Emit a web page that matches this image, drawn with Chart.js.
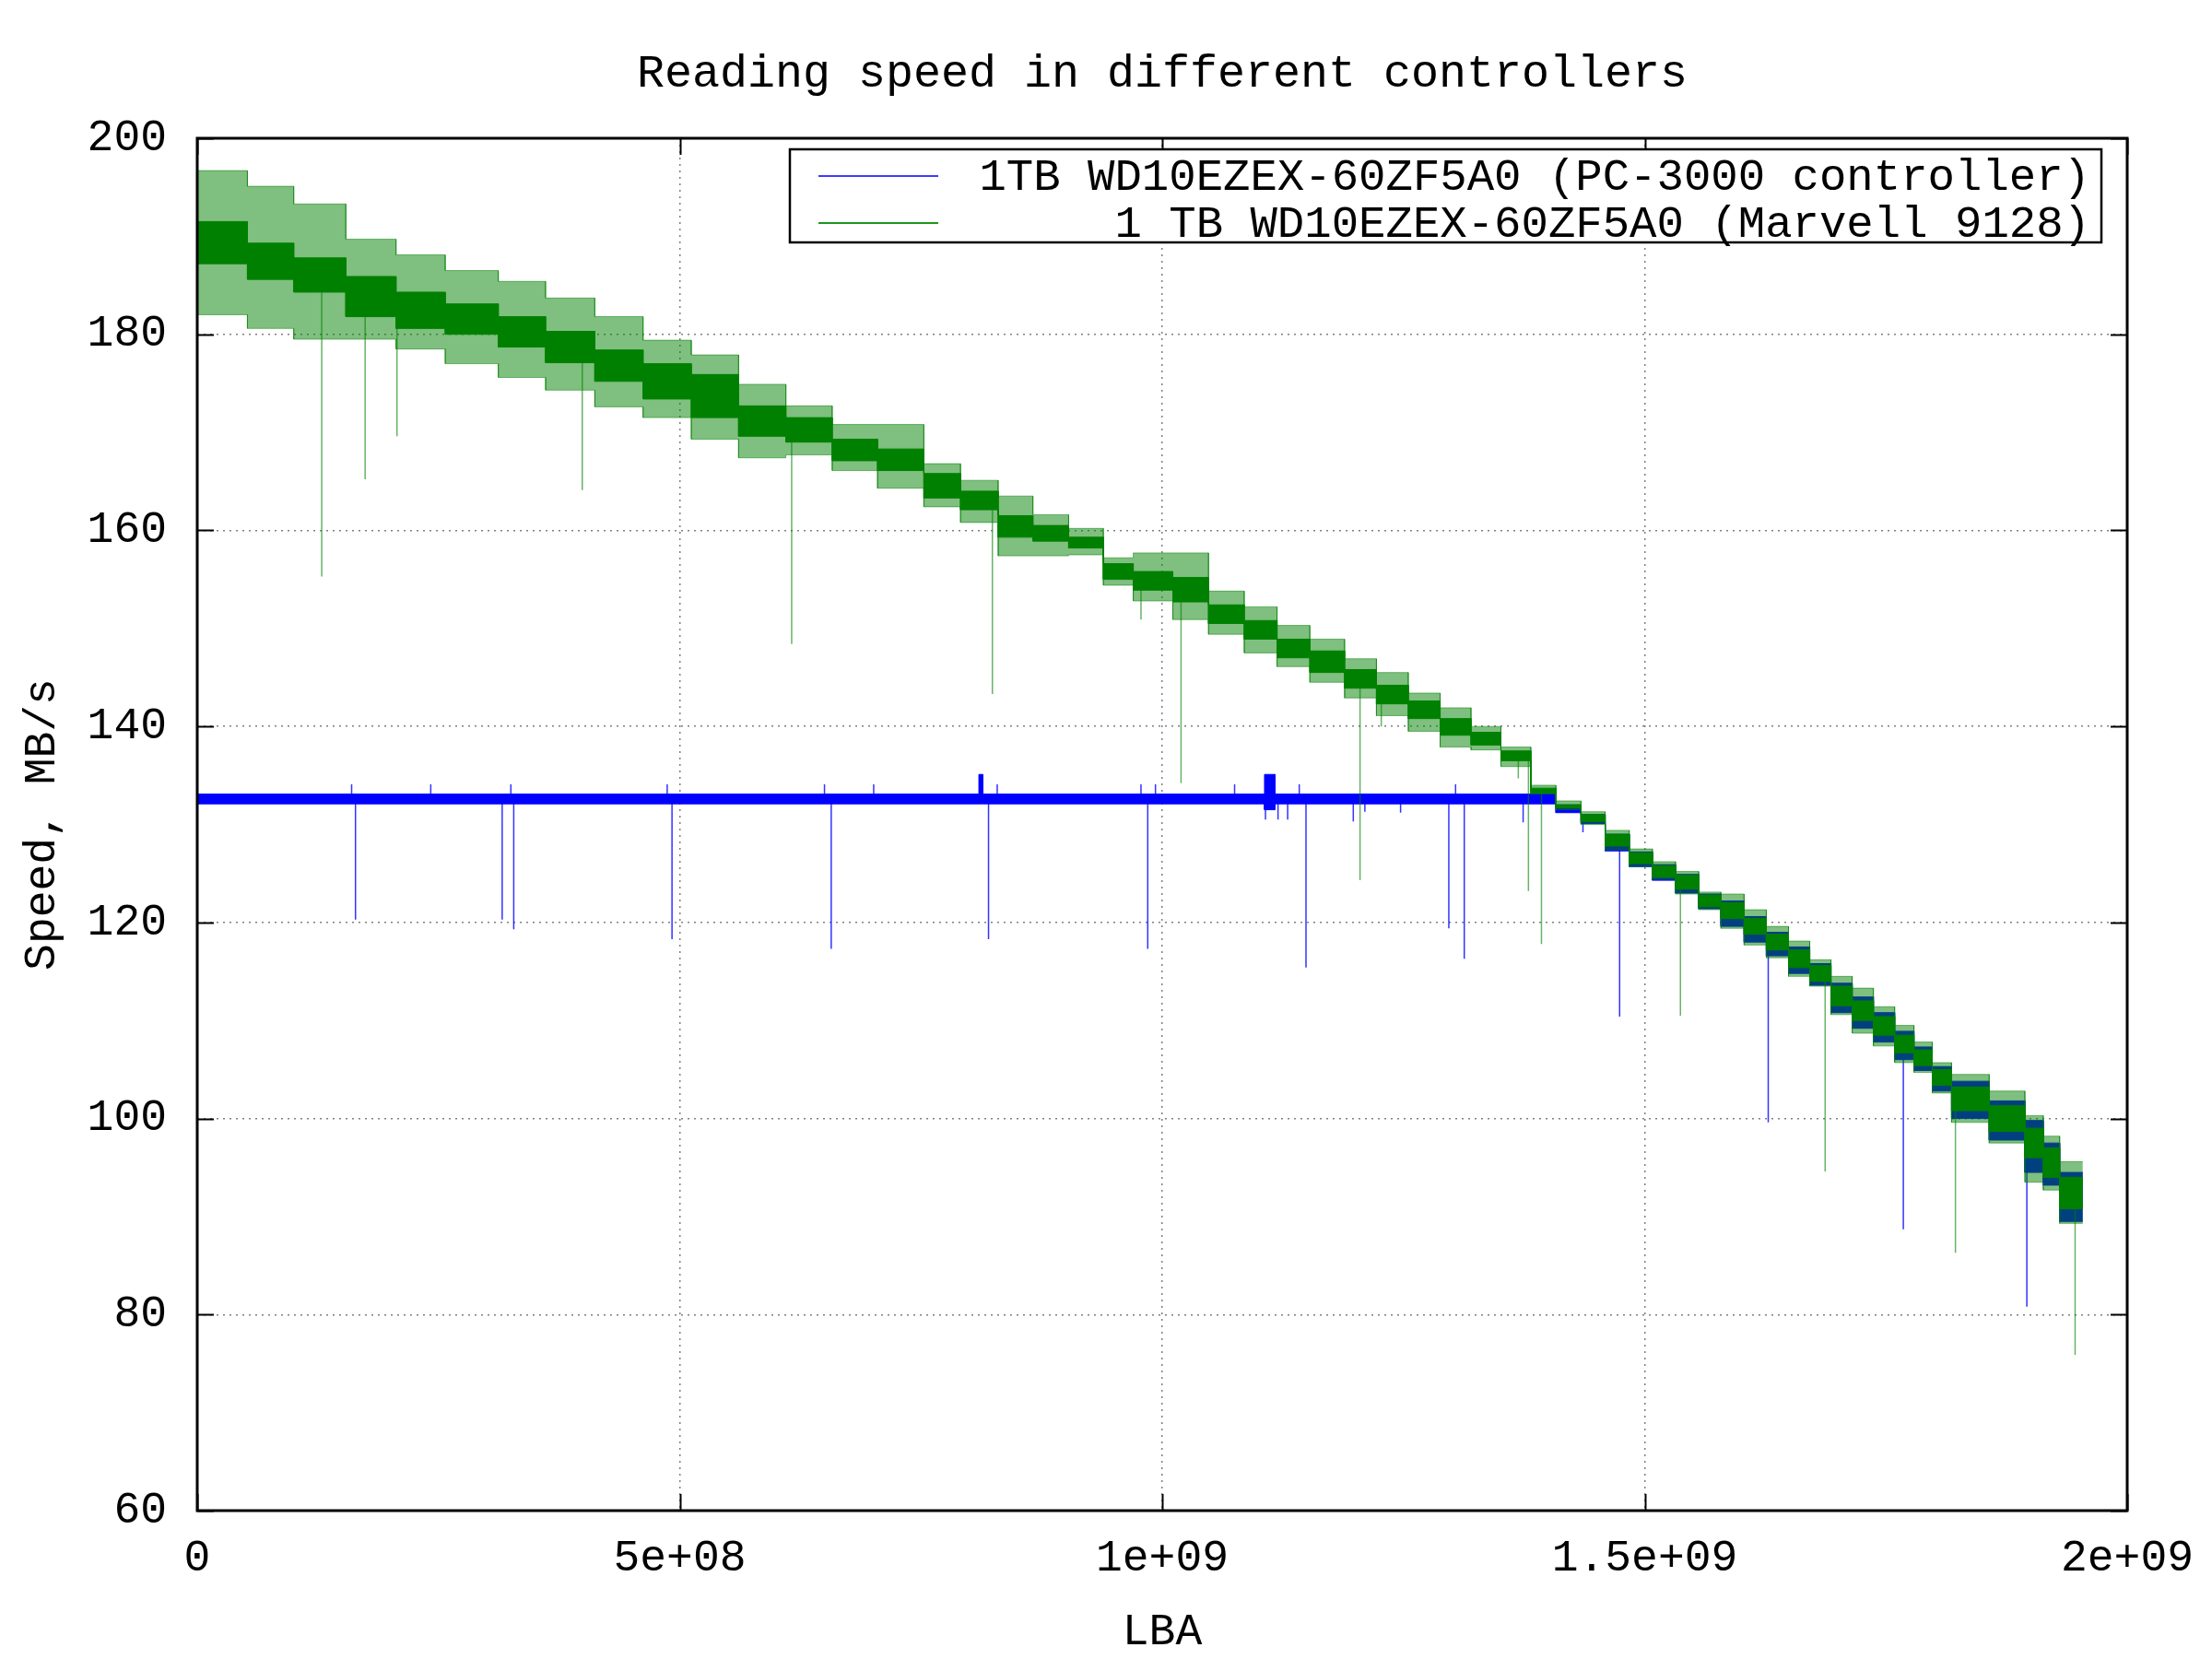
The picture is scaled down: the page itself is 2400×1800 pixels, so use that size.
<!DOCTYPE html>
<html>
<head>
<meta charset="utf-8">
<title>Reading speed in different controllers</title>
<script src="https://cdn.jsdelivr.net/npm/chart.js@4.4.1/dist/chart.umd.min.js"></script>
<style>
  html, body { margin: 0; padding: 0; background: #fff; }
</style>
</head>
<body>
<canvas id="chart" width="2400" height="1800"></canvas>
<script>

  /*
    ==================================================
    ====================== TEXTS ======================
    ==================================================
  */

  let chartTitle = 'Reading speed in different controllers';
  let xTitle = 'LBA';
  let yTitle = 'Speed, MB/s';
  let seriesLabels = [
    '1TB WD10EZEX-60ZF5A0 (PC-3000 controller)',
    '1 TB WD10EZEX-60ZF5A0 (Marvell 9128)'
  ];
  let xTickLabels = ['0', '5e+08', '1e+09', '1.5e+09', '2e+09'];

  /*
    ==================================================
    =============== DATA MARVELL (GREEN) ===============
    ==================================================
  */

  // zone edges, LBA x 1e9
  let greenEdges = [0, 0.052, 0.100, 0.154, 0.206, 0.257, 0.312, 0.361, 0.412, 0.462,
    0.512, 0.561, 0.610, 0.658, 0.705, 0.753, 0.791, 0.830, 0.866, 0.903,
    0.939, 0.970, 1.011, 1.048, 1.085, 1.119, 1.153, 1.189, 1.222, 1.255,
    1.288, 1.320, 1.351, 1.382, 1.408, 1.434, 1.459, 1.484, 1.508, 1.532,
    1.556, 1.579, 1.603, 1.626, 1.649, 1.671, 1.693, 1.715, 1.737, 1.759,
    1.779, 1.798, 1.818, 1.857, 1.894, 1.913, 1.930, 1.954];

  // top / bottom of the noise in each zone, MB/s
  let greenHi = [196.7, 195.1, 193.3, 189.7, 188.1, 186.5, 185.4, 183.7, 181.8, 179.4,
    177.9, 174.9, 172.7, 170.8, 170.8, 166.8, 165.1, 163.5, 161.6, 160.2,
    157.2, 157.7, 157.7, 153.8, 152.2, 150.3, 148.9, 146.9, 145.5, 143.4,
    141.9, 140.0, 137.9, 134.0, 132.4, 131.3, 129.4, 127.5, 126.2, 125.2,
    123.1, 122.9, 121.3, 119.6, 118.1, 116.2, 114.5, 113.3, 111.4, 109.5,
    107.8, 105.7, 104.5, 102.8, 100.3, 98.2, 95.6];
  let greenLo = [182.0, 180.6, 179.5, 179.5, 178.5, 177.0, 175.6, 174.3, 172.6, 171.5,
    169.3, 167.4, 167.7, 166.1, 164.3, 162.4, 160.8, 157.4, 157.4, 157.5,
    154.4, 152.8, 150.9, 149.4, 147.5, 146.1, 144.5, 142.9, 141.1, 139.5,
    137.9, 137.6, 135.9, 133.1, 131.5, 130.0, 127.4, 125.7, 124.4, 122.9,
    121.3, 119.4, 117.7, 116.4, 114.5, 113.5, 110.6, 108.7, 107.4, 105.7,
    104.7, 102.6, 99.6, 97.5, 93.5, 92.7, 89.3];

  // dense dark core of each zone, MB/s
  let greenCoreHi = [191.5, 189.3, 187.8, 185.9, 184.3, 183.1, 181.8, 180.3, 178.4, 177.0,
    175.9, 172.7, 171.5, 169.3, 168.3, 165.8, 164.0, 161.5, 160.5, 159.3,
    156.6, 155.8, 155.2, 152.4, 150.8, 148.9, 147.7, 145.8, 144.2, 142.6,
    140.8, 139.4, 137.5, 133.7, 132.0, 131.0, 129.0, 127.1, 125.8, 124.8,
    122.8, 122.0, 120.4, 118.8, 117.2, 115.6, 113.5, 112.0, 110.4, 108.5,
    107.0, 105.0, 103.2, 101.3, 99.0, 97.0, 94.0];
  let greenCoreLo = [187.2, 185.6, 184.3, 181.8, 180.6, 180.0, 178.7, 177.1, 175.2, 173.4,
    171.5, 169.6, 169.0, 167.1, 166.1, 163.3, 162.1, 159.3, 158.9, 158.2,
    155.0, 153.9, 152.7, 150.5, 148.9, 147.0, 145.5, 143.9, 142.3, 140.8,
    139.1, 138.1, 136.5, 133.2, 131.7, 130.3, 127.8, 126.0, 124.6, 123.4,
    121.6, 120.4, 118.8, 117.2, 115.4, 114.0, 111.5, 110.0, 108.5, 106.7,
    105.4, 103.4, 100.8, 98.7, 96.0, 94.0, 90.8];

  // single slow reads
  let greenDipX = [0.129, 0.174, 0.207, 0.399, 0.616, 0.824, 0.978, 1.0195, 1.205,
    1.227, 1.369, 1.3795, 1.393, 1.537, 1.687, 1.822, 1.946];
  let greenDipY = [155.3, 165.2, 169.6, 164.1, 148.4, 143.3, 150.9, 134.2, 124.3,
    140.0, 134.7, 123.2, 117.8, 110.5, 94.6, 86.3, 75.9];

  /*
    ==================================================
    =============== DATA PC-3000 (BLUE) ===============
    ==================================================
  */

  let blueEdges = [0, 0.810, 0.814, 1.106, 1.117, 1.408, 1.434, 1.459, 1.484, 1.508,
    1.532, 1.556, 1.579, 1.603, 1.626, 1.649, 1.671, 1.693, 1.715, 1.737,
    1.759, 1.779, 1.798, 1.818, 1.857, 1.894, 1.913, 1.930, 1.954];
  let blueHi = [133.1, 135.1, 133.1, 135.1, 133.1, 132.0, 131.0, 129.0, 127.2, 125.9,
    124.9, 122.9, 122.2, 120.6, 119.0, 117.5, 115.8, 113.8, 112.4, 110.8,
    108.9, 107.3, 105.3, 103.8, 101.8, 99.8, 97.5, 94.5];
  let blueLo = [132.1, 132.1, 132.1, 131.5, 132.1, 131.2, 130.1, 127.3, 125.7, 124.3,
    123.0, 121.4, 119.6, 118.0, 116.6, 114.8, 113.6, 110.8, 109.2, 107.8,
    106.0, 104.9, 102.8, 100.0, 97.8, 94.5, 93.2, 89.5];

  let blueSpikeX = [0.160, 0.164, 0.242, 0.316, 0.325, 0.328, 0.487, 0.492, 0.650, 0.657,
    0.701, 0.820, 0.829, 0.978, 0.985, 0.993, 1.075, 1.107, 1.120, 1.130,
    1.142, 1.149, 1.198, 1.210, 1.247, 1.297, 1.304, 1.313, 1.374, 1.436,
    1.474, 1.628, 1.768, 1.896];
  let blueSpikeY = [134.1, 120.3, 134.1, 120.3, 134.1, 119.3, 134.1, 118.3, 134.1, 117.3,
    134.1, 118.3, 134.1, 134.1, 117.3, 134.1, 134.1, 130.5, 130.5, 130.5,
    134.1, 115.4, 130.3, 131.3, 131.2, 119.4, 134.1, 116.3, 130.2, 129.2,
    110.4, 99.6, 88.7, 80.8];

  /*
    ==================================================
    ===================== HELPERS =====================
    ==================================================
  */

  let steps = (edges, vals) => vals.flatMap((v, i) => [
    { x: edges[i] * 1e9, y: v },
    { x: edges[i + 1] * 1e9, y: v }
  ]);

  let zoneMid = (edges, hi, lo, x) => {
    let i = edges.findIndex((e, k) => x >= e && x < edges[k + 1]);
    return (hi[i] + lo[i]) / 2;
  };

  let spikes = (xs, ys, edges, hi, lo) => xs.flatMap((x, i) => [
    { x: x * 1e9, y: zoneMid(edges, hi, lo, x) },
    { x: x * 1e9, y: ys[i] },
    { x: x * 1e9, y: null }
  ]);

  let line = (data, color, fill, width = 1) => ({
    data,
    borderColor: color,
    backgroundColor: color,
    borderWidth: width,
    pointRadius: 0,
    fill,
    spanGaps: false
  });

  /*
    ==================================================
    ===================== PLUGINS =====================
    ==================================================
  */

  let fontFamily = "'Liberation Mono', 'DejaVu Sans Mono', monospace";
  let green = 'rgb(0, 128, 0)';
  let greenSoft = 'rgba(0, 128, 0, 0.5)';
  let blue = 'rgb(0, 0, 255)';

  // gnuplot style frame with inward ticks on all sides
  let axesFrame = {
    id: 'axesFrame',
    afterDatasetsDraw(chart) {
      let { ctx, chartArea: a, scales: { x, y } } = chart;
      let tl = 18;
      ctx.save();
      ctx.strokeStyle = '#000';
      ctx.lineWidth = 2;
      ctx.beginPath();
      x.ticks.forEach(t => {
        let px = Math.round(x.getPixelForValue(t.value)) + 0.5;
        ctx.moveTo(px, a.bottom); ctx.lineTo(px, a.bottom - tl);
        ctx.moveTo(px, a.top); ctx.lineTo(px, a.top + tl);
      });
      y.ticks.forEach(t => {
        let py = Math.round(y.getPixelForValue(t.value)) + 0.5;
        ctx.moveTo(a.left, py); ctx.lineTo(a.left + tl, py);
        ctx.moveTo(a.right, py); ctx.lineTo(a.right - tl, py);
      });
      ctx.stroke();
      ctx.lineWidth = 3;
      ctx.strokeRect(a.left, a.top, a.width, a.height);
      ctx.restore();
    }
  };

  // boxed key in the top right corner, text right aligned
  let gnuLegend = {
    id: 'gnuLegend',
    afterDraw(chart) {
      let { ctx, chartArea: a } = chart;
      let colors = ['rgb(60, 60, 255)', 'rgb(30, 150, 30)'];
      let boxRight = a.right - 28, boxTop = a.top + 12;
      let boxLeft = 857, boxH = 101;
      ctx.save();
      ctx.fillStyle = '#fff';
      ctx.fillRect(boxLeft, boxTop, boxRight - boxLeft, boxH);
      ctx.strokeStyle = '#000';
      ctx.lineWidth = 2.5;
      ctx.strokeRect(boxLeft, boxTop, boxRight - boxLeft, boxH);
      ctx.font = `49px ${fontFamily}`;
      ctx.textAlign = 'right';
      ctx.textBaseline = 'middle';
      seriesLabels.forEach((label, i) => {
        let cy = boxTop + 29 + i * 51;
        ctx.strokeStyle = colors[i];
        ctx.lineWidth = 2;
        ctx.beginPath();
        ctx.moveTo(boxLeft + 31, cy);
        ctx.lineTo(boxLeft + 161, cy);
        ctx.stroke();
        ctx.fillStyle = '#000';
        ctx.fillText(label, boxRight - 12, cy + 2);
      });
      ctx.restore();
    }
  };

  /*
    ==================================================
    ====================== CHART ======================
    ==================================================
  */

  Chart.defaults.font.family = fontFamily;
  Chart.defaults.font.size = 48;
  Chart.defaults.color = '#000';

  let tickFont = { family: fontFamily, size: 48, lineHeight: 1 };
  let gridColor = 'rgba(0, 0, 0, 0.5)';

  new Chart(document.getElementById('chart').getContext('2d'), {
    type: 'line',
    data: {
      datasets: [
        line(steps(greenEdges, greenCoreHi), green, false),
        line(steps(greenEdges, greenCoreLo), green, '-1'),
        line(steps(greenEdges, greenHi), greenSoft, false),
        line(steps(greenEdges, greenLo), greenSoft, '-1'),
        line(spikes(greenDipX, greenDipY, greenEdges, greenCoreHi, greenCoreLo), 'rgba(0, 128, 0, 0.6)', false, 1.5),
        line(steps(blueEdges, blueHi), blue, false),
        line(steps(blueEdges, blueLo), blue, '-1'),
        line(spikes(blueSpikeX, blueSpikeY, blueEdges, blueHi, blueLo), 'rgba(0, 0, 255, 0.8)', false, 1.5)
      ]
    },
    options: {
      responsive: false,
      animation: false,
      events: [],
      layout: { padding: { left: 0, top: 0, right: 92, bottom: 0 } },
      plugins: {
        legend: { display: false },
        tooltip: { enabled: false },
        title: {
          display: true,
          text: chartTitle,
          fullSize: false,
          color: '#000',
          font: { family: fontFamily, size: 50, weight: 'normal', lineHeight: 1 },
          padding: { top: 56, bottom: 44 }
        }
      },
      scales: {
        x: {
          type: 'linear',
          min: 0,
          max: 2e9,
          ticks: {
            stepSize: 5e8,
            autoSkip: false,
            maxRotation: 0,
            padding: 28,
            color: '#000',
            font: tickFont,
            callback: (v, i) => xTickLabels[i]
          },
          grid: { color: gridColor, lineWidth: 1.5, drawTicks: false },
          border: { display: false, dash: [2, 5] },
          title: {
            display: true,
            text: xTitle,
            color: '#000',
            font: { family: fontFamily, size: 48, lineHeight: 1 },
            padding: { top: 0, bottom: 5 }
          },
          afterFit: scale => {
            scale.height = 161;
            scale.paddingLeft = 0;
            scale.paddingRight = 0;
          }
        },
        y: {
          min: 60,
          max: 200,
          ticks: {
            stepSize: 20,
            padding: 33,
            color: '#000',
            font: tickFont
          },
          grid: { color: gridColor, lineWidth: 1.5, drawTicks: false },
          border: { display: false, dash: [2, 5] },
          title: {
            display: true,
            text: yTitle,
            color: '#000',
            font: { family: fontFamily, size: 48, lineHeight: 1 },
            padding: { top: 22, bottom: 0 }
          },
          afterFit: scale => {
            scale.width = 214;
            scale.paddingTop = 0;
            scale.paddingBottom = 0;
          }
        }
      }
    },
    plugins: [axesFrame, gnuLegend]
  });

</script>
</body>
</html>
